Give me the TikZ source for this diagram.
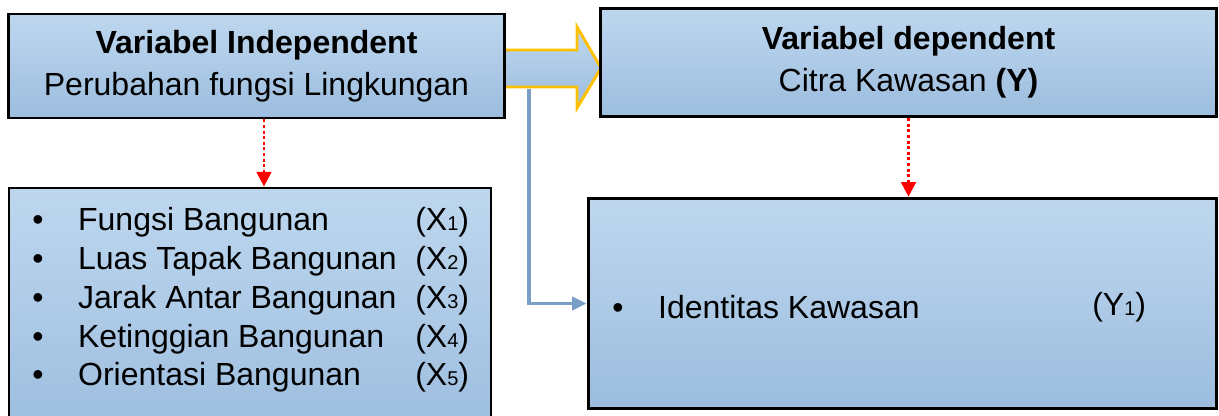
\documentclass[tikz,border=0pt]{standalone}
\usepackage{fontspec}
\setmainfont{Liberation Sans}
\usepackage{tikz}
\usetikzlibrary{arrows.meta}

\definecolor{biruatas}{RGB}{190,215,239}
\definecolor{birubawah}{RGB}{156,189,222}
\definecolor{emas}{RGB}{255,192,0}
\definecolor{birugaris}{RGB}{122,158,198}

% angka kecil di garis dasar
\newcommand{\angka}[1]{{\fontsize{15}{15}\selectfont #1}}

\tikzset{
    kotakvar/.style={
        draw=black,
        line width=2.2pt,
        top color=biruatas,
        bottom color=birubawah,
        inner sep=0pt,
        align=center,
        font=\fontsize{24}{31.5}\selectfont
    },
    isian/.style={
        inner sep=0pt,
        anchor=west,
        font=\fontsize{24}{29.1}\selectfont
    },
    panahmerah/.style={
        -{Triangle[length=11pt,width=11pt]},
        red,
        dotted,
        line width=2.2pt
    },
    panahbiru/.style={
        -{Triangle[length=11pt,width=10pt]},
        birugaris,
        line width=2.4pt
    }
}

\begin{document}
\begin{tikzpicture}[>=Stealth, x=0.75pt, y=-0.75pt]

\useasboundingbox (0,0) rectangle (1219,416);
\clip (0,0) rectangle (1219,416);

% ---------------- PANAH BLOK ----------------

\shade[
    top color=biruatas,
    bottom color=birubawah
] (500,50) -- (577,50) -- (577,27) -- (601,68)
    -- (577,108) -- (577,87) -- (500,87) -- cycle;

\draw[
    emas,
    line width=2.2pt
] (506,50) -- (577,50) -- (577,27) -- (601,68)
    -- (577,108) -- (577,87) -- (506,87);


% ---------------- VARIABEL ----------------

% Independent
\node[
    kotakvar,
    minimum width=372pt,
    minimum height=78pt
] (bebas) at (256.5,66)
    {\textbf{Variabel Independent}\\Perubahan fungsi Lingkungan};

% Dependent
\node[
    kotakvar,
    minimum width=462pt,
    minimum height=81.5pt
] (terikat) at (908.5,62.5)
    {\textbf{Variabel dependent}\\Citra Kawasan \textbf{(Y)}};


% ---------------- INDIKATOR ----------------

% X
\node[
    kotakvar,
    minimum width=361.5pt,
    minimum height=189pt
] (bangunan) at (250,314) {};

\node[isian] (daftarX) at (32,300.5) {%
    \begin{tabular}{@{}l@{\hspace{26pt}}l@{}}
    \textbullet & Fungsi Bangunan\\
    \textbullet & Luas Tapak Bangunan\\
    \textbullet & Jarak Antar Bangunan\\
    \textbullet & Ketinggian Bangunan\\
    \textbullet & Orientasi Bangunan
    \end{tabular}};

\node[isian] (kodeX) at (415,300.5) {%
    \begin{tabular}{@{}l@{}}
    (X\angka{1})\\
    (X\angka{2})\\
    (X\angka{3})\\
    (X\angka{4})\\
    (X\angka{5})
    \end{tabular}};

% Y
\node[
    kotakvar,
    minimum width=471.5pt,
    minimum height=158pt
] (identitas) at (902.5,303.5) {};

\node[isian] (butirY) at (612,307)
    {\textbullet\hspace{26pt}Identitas Kawasan};

\node[isian] (kodeY) at (1092,307) {(Y\angka{1})};


% ---------------- HUBUNGAN ----------------

\draw[panahmerah]
    ([xshift=5.6pt]bebas.south)
    -- ([xshift=5.6pt]bebas.south |- bangunan.north);

\draw[panahmerah]
    (terikat.south) -- (terikat.south |- identitas.north);

\coordinate (cabang) at (529,89);

\draw[panahbiru] (cabang) |- (identitas.west);

\end{tikzpicture}
\end{document}
